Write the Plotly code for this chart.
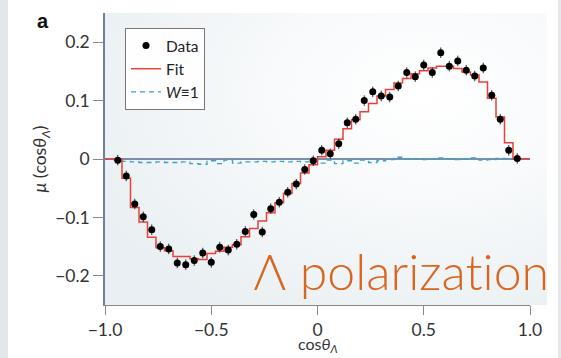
import base64
import numpy as np
import plotly.graph_objects as go

# ---- data ----
data_x = [round(-0.94 + 0.04 * i, 2) for i in range(48)]
data_y = [-0.002, -0.029, -0.077, -0.099, -0.121, -0.150, -0.154, -0.178, -0.181, -0.174,
          -0.161, -0.177, -0.151, -0.156, -0.146, -0.124, -0.095, -0.125, -0.085, -0.074,
          -0.057, -0.043, -0.018, -0.003,
          0.015, 0.009, 0.026, 0.062, 0.068, 0.100, 0.115, 0.108, 0.106, 0.125,
          0.148, 0.141, 0.161, 0.148, 0.182, 0.159, 0.168, 0.152, 0.142, 0.156,
          0.109, 0.068, 0.015, 0.001]
data_err = [0.009] * 48

bin_edges = [round(-1.0 + 0.04 * i, 2) for i in range(51)]
fit_y = [0.0, 0.0, -0.033, -0.083, -0.108, -0.134, -0.152, -0.157, -0.167, -0.167,
         -0.171, -0.172, -0.162, -0.158, -0.151, -0.147, -0.133, -0.119, -0.106, -0.092,
         -0.075, -0.059, -0.042, -0.024, -0.010,
         0.004, 0.015, 0.034, 0.052, 0.067, 0.081, 0.095, 0.108, 0.119, 0.130,
         0.138, 0.146, 0.151, 0.156, 0.159, 0.159, 0.155, 0.149, 0.144, 0.132,
         0.104, 0.072, 0.028, 0.0, 0.0]
w1_y = [0.0, -0.001, -0.004, -0.005, -0.006, -0.006, -0.005, -0.006, -0.006, -0.005,
        -0.008, -0.009, -0.003, -0.008, -0.002, -0.007, -0.005, -0.005, -0.004, -0.005,
        -0.004, -0.005, -0.004, -0.005, -0.004,
        -0.007, -0.002, -0.008, -0.003, -0.007, -0.002, -0.006, -0.003, -0.001, 0.003,
        0.000, 0.000, -0.001, 0.000, 0.002, 0.000, -0.001, 0.000, 0.002, -0.002,
        -0.001, 0.001, 0.000, 0.0, 0.0]

x_ticks = [-1.0, -0.5, 0, 0.5, 1.0]
x_ticktext = ["\u22121.0", "\u22120.5", "0", "0.5", "1.0"]
y_ticks = [-0.2, -0.1, 0, 0.1, 0.2]
y_ticktext = ["\u22120.2", "\u22120.1", "0", "0.1", "0.2"]

FONT = "Lato, 'Open Sans', sans-serif"
W, H = 561, 358
ML, MR, MT, MB = 105, 31, 13, 53
PW, PH = W - ML - MR, H - MT - MB

def px_x(p):
    return (p - ML) / PW

def px_y(p):
    return (H - MB - p) / PH

fig = go.Figure()

fig.add_trace(go.Scatter(
    x=bin_edges, y=w1_y + [w1_y[-1]], mode="lines", line_shape="hv",
    line=dict(color="#3a9fd6", width=1.3, dash="5px,4px"), name="<i>W</i>\u22611",
    legendrank=3))
fig.add_trace(go.Scatter(
    x=bin_edges, y=fit_y + [fit_y[-1]], mode="lines", line_shape="hv",
    line=dict(color="#e8403a", width=1.5), name="Fit", legendrank=2))
fig.add_trace(go.Scatter(
    x=data_x, y=data_y, mode="markers", name="Data", legendrank=1,
    marker=dict(color="black", size=7),
    error_y=dict(type="data", array=data_err, color="#333", thickness=1, width=0),
    error_x=dict(type="constant", value=0.011, color="#333", thickness=1, width=0)))

svg = ("<svg xmlns='http://www.w3.org/2000/svg' width='200' height='100' preserveAspectRatio='none'>"
       "<defs><radialGradient id='g' cx='0.72' cy='0.28' r='0.85'>"
       "<stop offset='0' stop-color='#ffffff'/><stop offset='0.4' stop-color='#f8fafb'/>"
       "<stop offset='1' stop-color='#e9eff2'/></radialGradient></defs>"
       "<rect width='200' height='100' fill='url(#g)'/></svg>")
src = "data:image/svg+xml;base64," + base64.b64encode(svg.encode()).decode()

fig.update_layout(
    width=W, height=H,
    margin=dict(l=ML, r=MR, t=MT, b=MB, autoexpand=False),
    paper_bgcolor="white", plot_bgcolor="rgba(0,0,0,0)",
    font=dict(family=FONT, size=17, color="#333"),
    showlegend=True,
    legend=dict(x=px_x(125), y=px_y(28), xanchor="left", yanchor="top",
                bgcolor="rgba(255,255,255,0.9)", bordercolor="#777", borderwidth=1,
                font=dict(size=15.5, color="#222"), tracegroupgap=0,
                itemwidth=30, traceorder="normal"),
    images=[dict(source=src, xref="paper", yref="paper", x=0, y=1,
                 sizex=px_x(547), sizey=1, sizing="stretch", layer="below")],
    shapes=[
        dict(type="rect", xref="paper", yref="paper", x0=px_x(0), x1=px_x(8),
             y0=px_y(H), y1=px_y(0), fillcolor="#e3e7ea", line_width=0, layer="below"),
        dict(type="rect", xref="paper", yref="paper", x0=px_x(558), x1=px_x(562),
             y0=px_y(H), y1=px_y(0), fillcolor="#e6e9eb", line_width=0, layer="below"),
    ],
    annotations=[
        dict(text="<b>a</b>", xref="paper", yref="paper", x=px_x(35), y=px_y(21),
             xanchor="left", yanchor="middle", showarrow=False,
             font=dict(family="Liberation Sans, Arial, sans-serif", size=20, color="#111")),
        dict(text="\u039b polarization", xref="paper", yref="paper",
             x=px_x(251), y=px_y(271), xanchor="left", yanchor="middle", showarrow=False,
             font=dict(family=FONT, size=50, color="#d9661f", weight=300)),
        dict(text="cos<i>\u03b8</i><sub><i>\u039b</i></sub>", xref="x", yref="paper",
             x=0, y=px_y(357), xanchor="center", yanchor="bottom", showarrow=False,
             font=dict(family=FONT, size=16, color="#333")),
    ],
)

fig.update_xaxes(range=[-1.0, 1.0], tickvals=x_ticks, ticktext=x_ticktext, automargin=False,
                 showgrid=False, zeroline=False, showline=True, linecolor="#888", linewidth=1,
                 ticks="outside", ticklen=9, tickcolor="#888", tickfont=dict(size=17.5, color="#333"))
fig.update_yaxes(range=[-0.25, 0.25], tickvals=y_ticks, ticktext=y_ticktext, automargin=False,
                 showgrid=False, zeroline=True, zerolinecolor="#7c8fa6", zerolinewidth=1.5,
                 showline=True, linecolor="#6f7fa0", linewidth=1.5,
                 ticks="outside", ticklen=10, tickcolor="#888", tickfont=dict(size=17.5, color="#333"),
                 title=dict(text="<i>\u03bc</i> (cos<i>\u03b8</i><sub><i>\u039b</i></sub>)",
                            standoff=4, font=dict(size=17.5, color="#333")))

post = ("document.body.style.margin='0';"
        "var st=document.createElement('style');"
        "st.textContent='text{font-variant-ligatures:none;font-feature-settings:\"liga\" 0;}';"
        "document.head.appendChild(st);")
fig.write_html("out.html", post_script=post, config={"displayModeBar": False})
